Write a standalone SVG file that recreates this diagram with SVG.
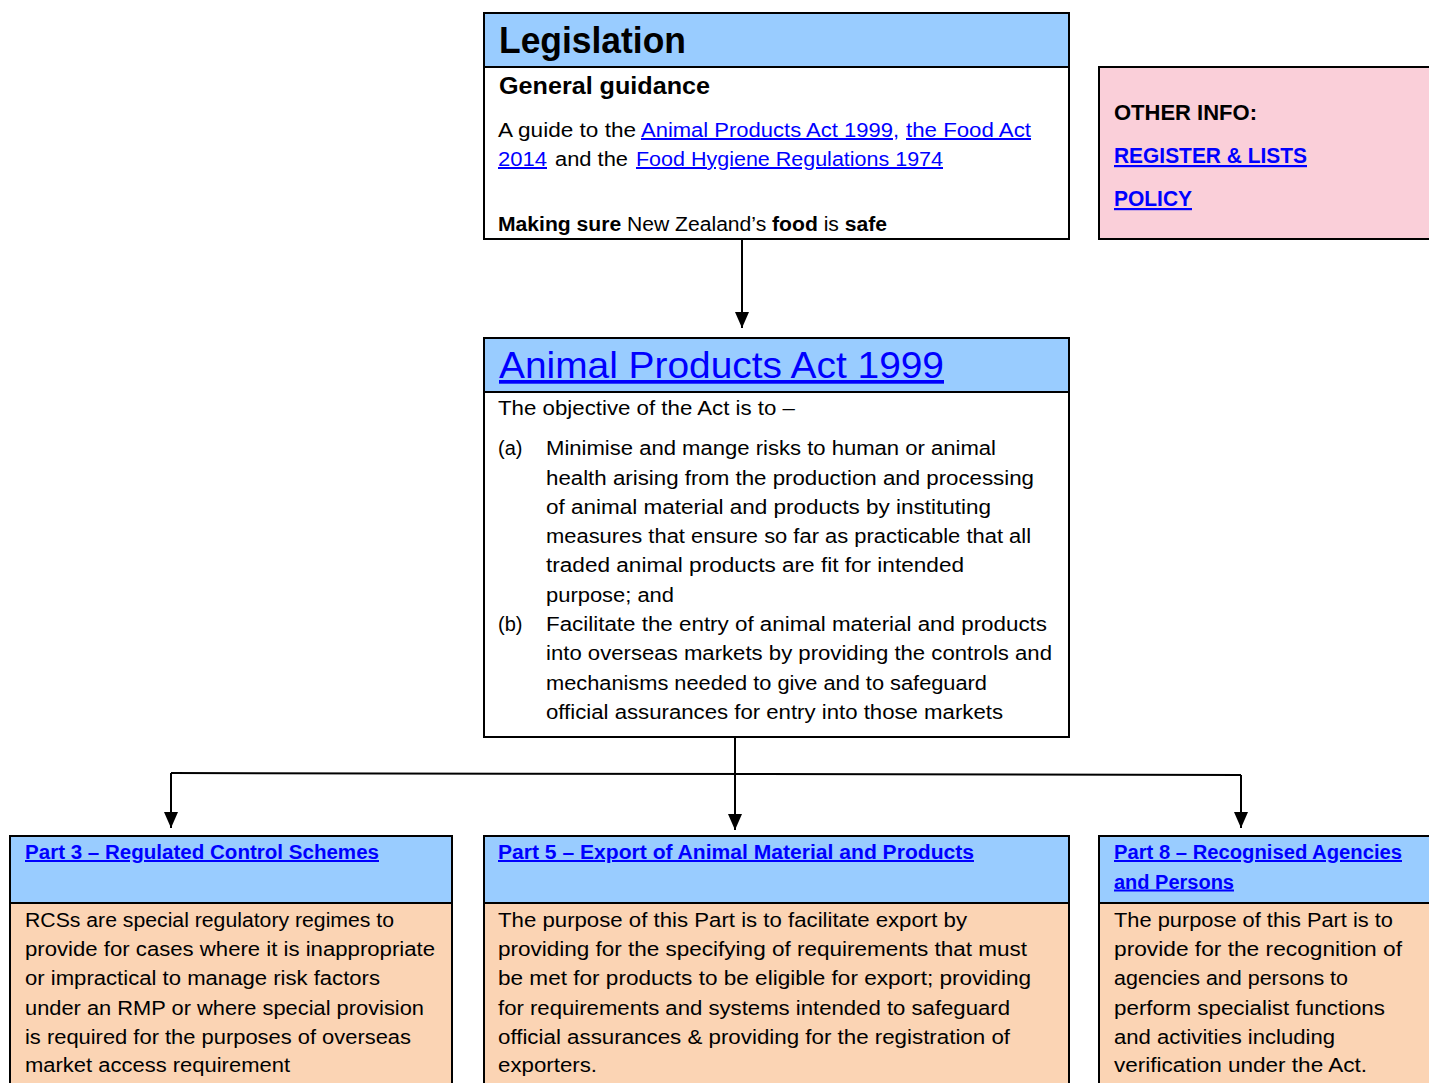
<svg xmlns="http://www.w3.org/2000/svg" width="1429" height="1083" viewBox="0 0 1429 1083">
<style>
text { font-family: "Liberation Sans", Arial, sans-serif; fill: #000; }
.box { stroke: #000; stroke-width: 2; }
.hdr { fill: #99CCFF; }
.wht { fill: #FFFFFF; }
.tan { fill: #FBD4B4; }
.pink { fill: #FACFD9; }
.b20 { font-size: 20px; }
.bold { font-weight: bold; }
.link { fill: #0000FF; text-decoration: underline; }
.conn { stroke: #000; stroke-width: 2; fill: none; }
</style>
<defs>
<marker id="arr" markerUnits="userSpaceOnUse" markerWidth="16" markerHeight="14" refX="16" refY="7" orient="auto">
<path d="M0,0 L16,7 L0,14 z" fill="#000"/>
</marker>
</defs>
<rect width="1429" height="1083" fill="#FFFFFF"/>

<g id="connectors">
<path class="conn" d="M742 240 V328" marker-end="url(#arr)"/>
<path class="conn" d="M735 737 V830" marker-end="url(#arr)"/>
<path class="conn" d="M171 773 L1241 775"/>
<path class="conn" d="M171 773 V828" marker-end="url(#arr)"/>
<path class="conn" d="M1241 775 V828" marker-end="url(#arr)"/>
</g>

<g id="legislation">
<rect class="box wht" x="484" y="13" width="585" height="226"/>
<rect class="box hdr" x="484" y="13" width="585" height="54"/>
<text x="499" y="53" class="bold" font-size="36" textLength="187" lengthAdjust="spacingAndGlyphs">Legislation</text>
<text x="499" y="94" class="bold" font-size="24" textLength="211" lengthAdjust="spacingAndGlyphs">General guidance</text>
<text x="498" y="137" class="b20" textLength="138" lengthAdjust="spacingAndGlyphs">A guide to the</text>
<text x="641" y="137" class="b20 link" textLength="258" lengthAdjust="spacingAndGlyphs">Animal Products Act 1999,</text>
<text x="906" y="137" class="b20 link" textLength="125" lengthAdjust="spacingAndGlyphs">the Food Act</text>
<text x="498" y="166" class="b20 link" textLength="49" lengthAdjust="spacingAndGlyphs">2014</text>
<text x="555" y="166" class="b20" textLength="73" lengthAdjust="spacingAndGlyphs">and the</text>
<text x="636" y="166" class="b20 link" textLength="307" lengthAdjust="spacingAndGlyphs">Food Hygiene Regulations 1974</text>
<text x="498" y="231" class="b20" textLength="389" lengthAdjust="spacingAndGlyphs"><tspan class="bold">Making sure</tspan> New Zealand’s <tspan class="bold">food</tspan> is <tspan class="bold">safe</tspan></text>
</g>

<g id="other-info">
<rect class="box pink" x="1099" y="67" width="340" height="172"/>
<text x="1114" y="120" class="bold" font-size="22" textLength="143" lengthAdjust="spacingAndGlyphs">OTHER INFO:</text>
<text x="1114" y="163" class="bold link" font-size="22" textLength="193" lengthAdjust="spacingAndGlyphs">REGISTER &amp; LISTS</text>
<text x="1114" y="206" class="bold link" font-size="22" textLength="78" lengthAdjust="spacingAndGlyphs">POLICY</text>
</g>

<g id="animal-products-act">
<rect class="box wht" x="484" y="338" width="585" height="399"/>
<rect class="box hdr" x="484" y="338" width="585" height="54"/>
<text x="499" y="378" class="link" font-size="37" textLength="445" lengthAdjust="spacingAndGlyphs">Animal Products Act 1999</text>
<text x="498" y="415" class="b20" textLength="297" lengthAdjust="spacingAndGlyphs">The objective of the Act is to –</text>
<text x="498" y="455" class="b20">(a)</text>
<text x="546" y="455" class="b20" textLength="450" lengthAdjust="spacingAndGlyphs">Minimise and mange risks to human or animal</text>
<text x="546" y="484.5" class="b20" textLength="488" lengthAdjust="spacingAndGlyphs">health arising from the production and processing</text>
<text x="546" y="514" class="b20" textLength="445" lengthAdjust="spacingAndGlyphs">of animal material and products by instituting</text>
<text x="546" y="543" class="b20" textLength="485" lengthAdjust="spacingAndGlyphs">measures that ensure so far as practicable that all</text>
<text x="546" y="572" class="b20" textLength="418" lengthAdjust="spacingAndGlyphs">traded animal products are fit for intended</text>
<text x="546" y="601.5" class="b20" textLength="128" lengthAdjust="spacingAndGlyphs">purpose; and</text>
<text x="498" y="631" class="b20">(b)</text>
<text x="546" y="631" class="b20" textLength="501" lengthAdjust="spacingAndGlyphs">Facilitate the entry of animal material and products</text>
<text x="546" y="660" class="b20" textLength="506" lengthAdjust="spacingAndGlyphs">into overseas markets by providing the controls and</text>
<text x="546" y="689.5" class="b20" textLength="441" lengthAdjust="spacingAndGlyphs">mechanisms needed to give and to safeguard</text>
<text x="546" y="718.5" class="b20" textLength="457" lengthAdjust="spacingAndGlyphs">official assurances for entry into those markets</text>
</g>

<g id="part3">
<rect class="box tan" x="10" y="836" width="442" height="260"/>
<rect class="box hdr" x="10" y="836" width="442" height="67"/>
<text x="25" y="859" class="b20 bold link" textLength="354" lengthAdjust="spacingAndGlyphs">Part 3 – Regulated Control Schemes</text>
<text x="25" y="927" class="b20" textLength="369" lengthAdjust="spacingAndGlyphs">RCSs are special regulatory regimes to</text>
<text x="25" y="956" class="b20" textLength="410" lengthAdjust="spacingAndGlyphs">provide for cases where it is inappropriate</text>
<text x="25" y="985" class="b20" textLength="355" lengthAdjust="spacingAndGlyphs">or impractical to manage risk factors</text>
<text x="25" y="1014.5" class="b20" textLength="399" lengthAdjust="spacingAndGlyphs">under an RMP or where special provision</text>
<text x="25" y="1043.5" class="b20" textLength="386" lengthAdjust="spacingAndGlyphs">is required for the purposes of overseas</text>
<text x="25" y="1072" class="b20" textLength="265" lengthAdjust="spacingAndGlyphs">market access requirement</text>
</g>

<g id="part5">
<rect class="box tan" x="484" y="836" width="585" height="260"/>
<rect class="box hdr" x="484" y="836" width="585" height="67"/>
<text x="498" y="859" class="b20 bold link" textLength="476" lengthAdjust="spacingAndGlyphs">Part 5 – Export of Animal Material and Products</text>
<text x="498" y="927" class="b20" textLength="469" lengthAdjust="spacingAndGlyphs">The purpose of this Part is to facilitate export by</text>
<text x="498" y="956" class="b20" textLength="529" lengthAdjust="spacingAndGlyphs">providing for the specifying of requirements that must</text>
<text x="498" y="985" class="b20" textLength="533" lengthAdjust="spacingAndGlyphs">be met for products to be eligible for export; providing</text>
<text x="498" y="1014.5" class="b20" textLength="512" lengthAdjust="spacingAndGlyphs">for requirements and systems intended to safeguard</text>
<text x="498" y="1043.5" class="b20" textLength="512" lengthAdjust="spacingAndGlyphs">official assurances &amp; providing for the registration of</text>
<text x="498" y="1072" class="b20" textLength="99" lengthAdjust="spacingAndGlyphs">exporters.</text>
</g>

<g id="part8">
<rect class="box tan" x="1099" y="836" width="340" height="260"/>
<rect class="box hdr" x="1099" y="836" width="340" height="67"/>
<text x="1114" y="859" class="b20 bold link" textLength="288" lengthAdjust="spacingAndGlyphs">Part 8 – Recognised Agencies</text>
<text x="1114" y="888.5" class="b20 bold link" textLength="120" lengthAdjust="spacingAndGlyphs">and Persons</text>
<text x="1114" y="927" class="b20" textLength="279" lengthAdjust="spacingAndGlyphs">The purpose of this Part is to</text>
<text x="1114" y="956" class="b20" textLength="288" lengthAdjust="spacingAndGlyphs">provide for the recognition of</text>
<text x="1114" y="985" class="b20" textLength="234" lengthAdjust="spacingAndGlyphs">agencies and persons to</text>
<text x="1114" y="1014.5" class="b20" textLength="271" lengthAdjust="spacingAndGlyphs">perform specialist functions</text>
<text x="1114" y="1043.5" class="b20" textLength="221" lengthAdjust="spacingAndGlyphs">and activities including</text>
<text x="1114" y="1072" class="b20" textLength="253" lengthAdjust="spacingAndGlyphs">verification under the Act.</text>
</g>
</svg>
